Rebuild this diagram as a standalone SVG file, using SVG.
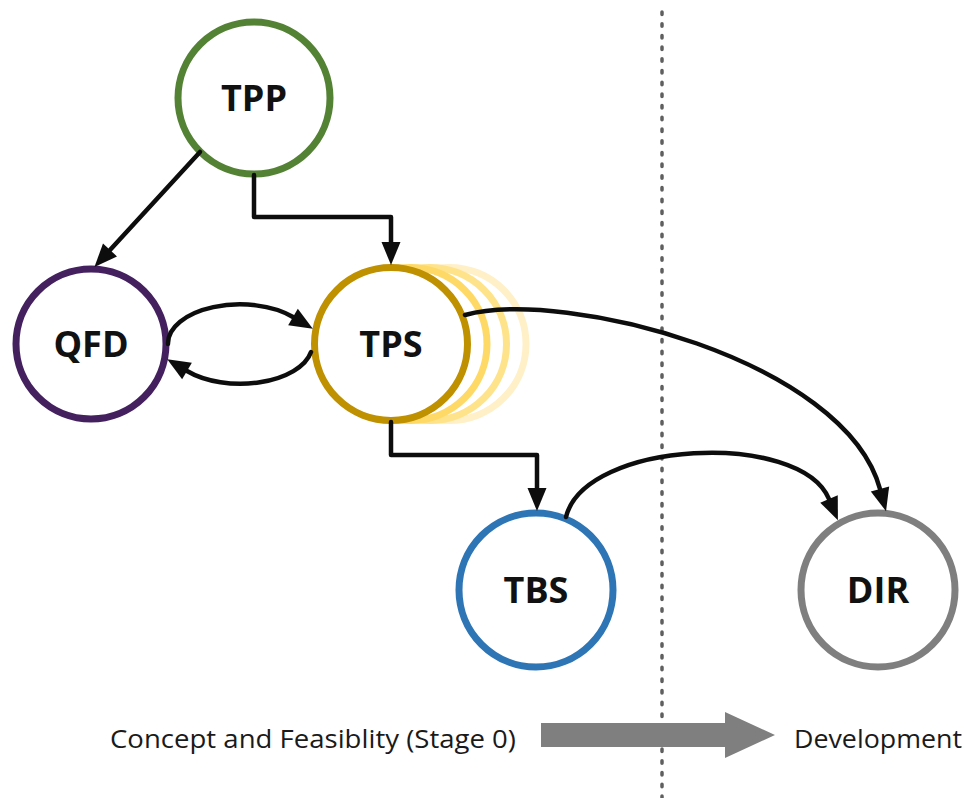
<svg xmlns="http://www.w3.org/2000/svg" width="968" height="798" viewBox="0 0 968 798">
  <style>
    .node { fill: #ffffff; stroke-width: 7; }
    .label { font-family: "Open Sans", "Liberation Sans", sans-serif; font-weight: 700; font-size: 36px; fill: #111111; text-anchor: middle; }
    .edge { fill: none; stroke: #0d0d0d; stroke-width: 4.5; stroke-linejoin: round; stroke-linecap: round; marker-end: url(#ah); }
    .caption { font-family: "Open Sans", "Liberation Sans", sans-serif; font-size: 25px; fill: #1a1a1a; }
  </style>
  <defs>
    <marker id="ah" markerUnits="userSpaceOnUse" markerWidth="26" markerHeight="22" refX="0" refY="9.5" orient="auto" overflow="visible">
      <path d="M0,0 L23,9.5 L0,19 Z" fill="#0d0d0d"/>
    </marker>
  </defs>

  <rect width="968" height="798" fill="#ffffff"/>

  <!-- stage divider -->
  <line id="divider" x1="662" y1="12" x2="662" y2="798" stroke="#5f5f5f" stroke-width="3.5" stroke-linecap="round" stroke-dasharray="2.5 9.2"/>

  <!-- stage arrow -->
  <polygon id="stage-arrow" points="541,723 725,723 725,712 775,735 725,758 725,747 541,747" fill="#7f7f7f"/>
  <text class="caption" x="110" y="748" textLength="406" lengthAdjust="spacingAndGlyphs">Concept and Feasiblity (Stage 0)</text>
  <text class="caption" x="794" y="748" textLength="168" lengthAdjust="spacingAndGlyphs">Development</text>

  <!-- nodes -->
  <g id="TPP">
    <circle class="node" cx="254" cy="98" r="76" stroke="#548235"/>
    <text class="label" x="254" y="111">TPP</text>
  </g>
  <g id="QFD">
    <circle class="node" cx="91" cy="344" r="75" stroke="#44205f"/>
    <text class="label" x="91" y="357">QFD</text>
  </g>
  <g id="TPS">
    <circle class="node" cx="449.5" cy="344" r="76.5" stroke="#fff0c8"/>
    <circle class="node" cx="430" cy="344" r="76.5" stroke="#ffe38a"/>
    <circle class="node" cx="410.5" cy="344" r="76.5" stroke="#ffd966"/>
    <circle class="node" cx="391" cy="344" r="76.5" stroke="#bf9000"/>
    <text class="label" x="391" y="357">TPS</text>
  </g>
  <g id="TBS">
    <circle class="node" cx="536" cy="590" r="77" stroke="#2e75b6"/>
    <text class="label" x="536" y="603">TBS</text>
  </g>
  <g id="DIR">
    <circle class="node" cx="878" cy="590" r="77" stroke="#7f7f7f"/>
    <text class="label" x="878" y="603">DIR</text>
  </g>

  <!-- connectors -->
  <g id="connectors">
    <path class="edge" d="M200,152 L110,250"/>
    <path class="edge" d="M254,175 V217 H391 V242"/>
    <path class="edge" d="M168,344 A72,39 0 0 1 293,317"/>
    <path class="edge" d="M311,352 A72,39 0 0 1 187,371"/>
    <path class="edge" d="M465,315 C565,288 845,360 880,489"/>
    <path class="edge" d="M391,422 V455 H537 V488"/>
    <path class="edge" d="M566,517 C585,440 800,430 829,499"/>
  </g>
</svg>
